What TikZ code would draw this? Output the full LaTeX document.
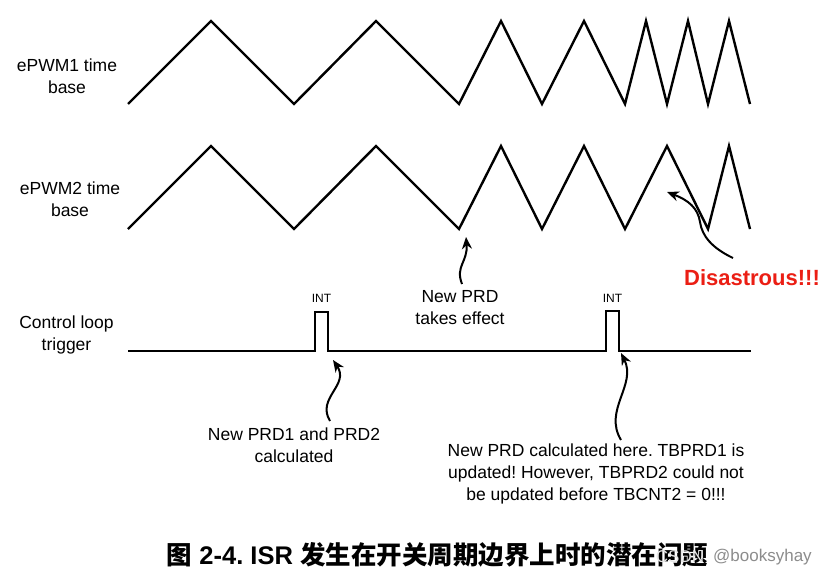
\documentclass[tikz,border=0pt]{standalone}
\usepackage{fontspec}
\setmainfont{Liberation Sans}
\newfontfamily\cjk{Noto Sans CJK SC}
\usetikzlibrary{arrows.meta}
\definecolor{disred}{RGB}{235,30,20}
\frenchspacing
\tikzset{
  wave/.style={line width=2.4pt, line join=miter},
  lbl/.style={align=center, inner sep=0pt, font=\fontsize{17.5}{22}\selectfont},
  intlbl/.style={inner sep=0pt, font=\fontsize{12}{14}\selectfont},
  arr/.style={line width=2pt, -{Stealth[length=12pt,width=10pt]}},
}
\begin{document}
\begin{tikzpicture}[x=1pt,y=-1pt]
\useasboundingbox[fill=white] (0,0) rectangle (832,578);
% time bases
\draw[wave] (128,104) -- (211,21) -- (294,104) -- (376,21) -- (459,104) -- (501,21) -- (542,104) -- (584,21) -- (625,104) -- (646,21) -- (667,104) -- (688,21) -- (708,104) -- (729,21) -- (750,104);
\draw[wave] (128,229) -- (211,146) -- (294,229) -- (376,146) -- (459,229) -- (501,146) -- (542,229) -- (584,146) -- (625,229) -- (667,146) -- (708,229) -- (729,146) -- (750,229);
% trigger
\draw[wave] (128,351) -- (315,351) -- (315,312) -- (328,312) -- (328,351) -- (606,351) -- (606,311) -- (619,311) -- (619,351) -- (751,351);
% labels
\node[lbl] (l1) at (67,76) {ePWM1 time\\base};
\node[lbl] (l2) at (70,199) {ePWM2 time\\base};
\node[lbl] (l3) at (66.5,334.5) {Control loop\\trigger};
\node[intlbl] (int1) at (321.5,298) {INT};
\node[intlbl] (int2) at (612.5,298) {INT};
\node[lbl] (tk) at (460,308) {New PRD\\takes effect};
\node[lbl] (calc) at (294,445) {New PRD1 and PRD2\\calculated};
\node[lbl] (here) at (596,474) {New PRD calculated here. TBPRD1 is\\updated! However, TBPRD2 could not\\be updated before TBCNT2 = 0!!!};
\node[inner sep=0pt, text=disred, font=\fontsize{22}{26}\selectfont\bfseries] (dis) at (752,278) {Disastrous!!!};
% arrow ends
\coordinate (t1) at (462,284);
\coordinate (h1) at (466,237);
\coordinate (t2) at (330,421);
\coordinate (h2) at (333,360);
\coordinate (t3) at (621,440);
\coordinate (h3) at (621,353);
\coordinate (t4) at (733,258);
\coordinate (h4) at (667,192);
\draw[arr] (t1) .. controls (455,266) and (468,262) .. (h1);
\draw[arr] (t2) .. controls (316,398) and (350,385) .. (h2);
\draw[arr] (t3) .. controls (603,410) and (637,385) .. (h3);
\draw[arr] (t4) .. controls (712,248) and (702,236) .. (700,222) .. controls (698,208) and (688,200) .. (h4);
% caption
\node[inner sep=0pt, font=\fontsize{25.5}{29}\selectfont\bfseries] (cap) at (437.5,555) {{\cjk 图} 2-4. ISR {\cjk 发生在开关周期边界上时的潜在问题}};
\node[inner sep=0pt, text=black!10, font=\fontsize{17}{20}\selectfont] (wm1) at (680,557) {CSDN};
\node[inner sep=0pt, text=black!45, font=\fontsize{17}{20}\selectfont, anchor=west] (wm2) at (713,557) {@booksyhay};
\end{tikzpicture}
\end{document}
